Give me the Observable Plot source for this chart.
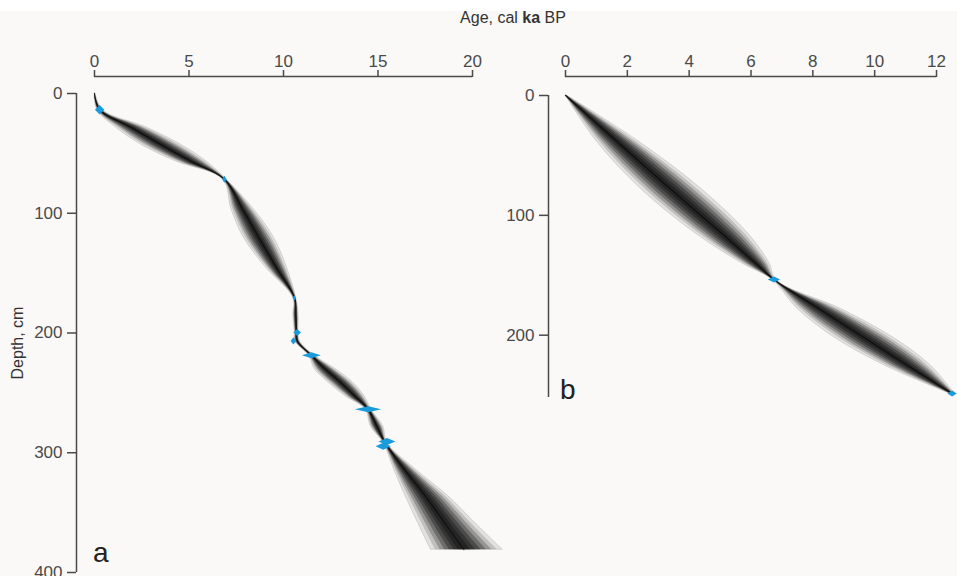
<!DOCTYPE html>
<html><head><meta charset="utf-8">
<script src="https://cdn.jsdelivr.net/npm/d3@7"></script>
<script src="https://cdn.jsdelivr.net/npm/@observablehq/plot@0.6"></script>
<style>
body{margin:0;background:#fff;}
#wrap{position:relative;width:957px;height:576px;background:#fff;overflow:hidden;font-family:"Liberation Sans",Arial,sans-serif;color:#333;}
#bg{position:absolute;left:0;top:11px;width:957px;height:565px;background:#faf9f7;}
.abs{position:absolute;white-space:nowrap;}
.plot{position:absolute;top:0;}
#pa svg text, #pb svg text{font-size:17px !important;}
</style></head><body>
<div id="wrap">
  <div id="bg"></div>
  <div class="abs" id="title" style="left:513px;top:10px;font-size:16px;line-height:16px;transform:translateX(-50%);">Age, cal <b>ka</b> BP</div>
  <div class="abs" id="ylab" style="left:18px;top:343px;font-size:16px;line-height:16px;transform:translate(-50%,-50%) rotate(-90deg);">Depth, cm</div>
  <div id="pa" class="plot" style="left:0px;"></div>
  <div id="pb" class="plot" style="left:480px;"></div>
  <div class="abs" style="left:93px;top:539px;font-size:28px;line-height:28px;color:#222;">a</div>
  <div class="abs" style="left:560px;top:376px;font-size:28px;line-height:28px;color:#222;">b</div>
</div>
<script>
// ---- Panel a: age-depth model (depth cm, age cal ka BP) ----
const depthA = [0, 14, 28, 43, 57, 72, 97, 121, 146, 171, 185, 200, 207, 219, 230, 241, 253, 264, 278, 292, 314, 336, 358, 381];
const medA   = [0, 0.3, 1.9, 3.55, 5.15, 6.9, 7.85, 8.72, 9.65, 10.6, 10.66, 10.7, 10.75, 11.5, 12.2, 13.0, 13.8, 14.5, 14.95, 15.4, 16.4, 17.5, 18.5, 19.55];
const loA    = [0, 0.15, 1.1, 2.5, 4.35, 6.8, 7.25, 7.92, 9.1, 10.52, 10.52, 10.6, 10.62, 11.35, 11.65, 12.35, 13.3, 14.35, 14.62, 15.3, 15.85, 16.45, 17.1, 17.8];
const hiA    = [0.05, 0.45, 2.7, 4.6, 5.95, 7.0, 8.45, 9.52, 10.2, 10.68, 10.8, 10.8, 10.88, 11.65, 12.75, 13.65, 14.3, 14.65, 15.28, 15.5, 17.0, 18.7, 20.1, 21.6];
// dated levels, panel a
const dateDepthA    = [14, 72, 171, 200, 207, 219, 264, 291, 295];
const dateAgeA      = [0.3, 6.9, 10.6, 10.75, 10.55, 11.5, 14.5, 15.5, 15.3];
const dateAgeErrA   = [0.25, 0.12, 0.1, 0.2, 0.15, 0.5, 0.7, 0.45, 0.4];
const dateDepthErrA = [4, 3, 2, 3, 3, 2.5, 2.5, 3, 3];
const xTicksA = [0, 5, 10, 15, 20];
const yTicksA = [0, 100, 200, 300, 400];

// ---- Panel b ----
const depthB = [0, 38, 77, 115, 140, 154, 178, 202, 225, 249];
const medB   = [0, 1.65, 3.35, 5.05, 6.15, 6.76, 8.2, 9.65, 11.05, 12.52];
const loB    = [0, 1.0, 2.4, 4.2, 5.7, 6.7, 7.5, 8.7, 10.3, 12.45];
const hiB    = [0.05, 2.35, 4.35, 5.9, 6.6, 6.82, 8.9, 10.6, 11.8, 12.6];
const dateDepthB    = [154, 249];
const dateAgeB      = [6.76, 12.52];
const dateAgeErrB   = [0.2, 0.15];
const dateDepthErrB = [2.5, 2.5];
const xTicksB = [0, 2, 4, 6, 8, 10, 12];
const yTicksB = [0, 100, 200];

const BLUE = "#1a9bdc";
const AX = "#4a4a4a";
const FONT = "Liberation Sans, Arial, sans-serif";

function rows(depth, med, lo, hi) {
  return depth.map((d, i) => ({depth: d, med: med[i], lo: lo[i], hi: hi[i]}));
}
function diamonds(dep, age, aErr, dErr) {
  const out = [];
  dep.forEach((d, i) => {
    out.push({id: i, depth: d - dErr[i], x1: age[i], x2: age[i]});
    out.push({id: i, depth: d, x1: age[i] - aErr[i], x2: age[i] + aErr[i]});
    out.push({id: i, depth: d + dErr[i], x1: age[i], x2: age[i]});
  });
  return out;
}
// shading layers (fraction of interval, opacity) to mimic the grey-scale density
const layers = [[1, 0.1], [0.86, 0.16], [0.72, 0.24], [0.58, 0.3], [0.44, 0.36], [0.3, 0.4], [0.17, 0.45]];
function bandMarks(data) {
  const m = layers.map(([f, op], k) => Plot.areaX(data, {
    y: "depth",
    x1: d => d.med - f * (d.med - d.lo),
    x2: d => d.med + f * (d.hi - d.med),
    curve: "catmull-rom",
    fill: "#111",
    fillOpacity: op,
    stroke: k === 0 ? "#888" : "none",
    strokeOpacity: 0.45,
    strokeWidth: 0.6
  }));
  m.push(Plot.lineX(data, {x: "med", y: "depth", curve: "catmull-rom", stroke: "#000", strokeOpacity: 0.6, strokeWidth: 1.2}));
  return m;
}

function panel(opts) {
  return Plot.plot({
    width: opts.width, height: 576,
    marginLeft: opts.ml, marginRight: opts.mr, marginTop: 76, marginBottom: opts.mb,
    x: {domain: opts.xdom, insetLeft: opts.il, axis: null},
    y: {domain: opts.ydom, reverse: true, insetTop: opts.it, axis: null},
    style: {background: "transparent", overflow: "visible", fontFamily: FONT, fontSize: "17px"},
    marks: [
      ...bandMarks(opts.band),
      Plot.areaX(opts.dates, {y: "depth", x1: "x1", x2: "x2", z: "id", fill: BLUE}),
      Plot.axisX(opts.xt, {anchor: "top", tickSize: 7, tickPadding: 3, fontSize: 17, color: AX, strokeWidth: 1.5, label: null}),
      Plot.ruleY([0], {x1: opts.xdom[0], x2: opts.xdom[1], dy: -opts.it, stroke: AX, strokeWidth: 1.5}),
      Plot.axisY(opts.yt, {anchor: "left", tickSize: 9, tickPadding: 5, fontSize: 17, color: AX, strokeWidth: 1.5, label: null}),
      Plot.ruleX([0], {y1: opts.ydom[0], y2: opts.ydom[1], dx: -opts.il, stroke: AX, strokeWidth: 1.5})
    ]
  });
}

document.getElementById("pa").append(panel({
  width: 520, ml: 76, mr: 48, mb: 4, xdom: [0, 20], ydom: [0, 400], il: 18, it: 17,
  band: rows(depthA, medA, loA, hiA),
  dates: diamonds(dateDepthA, dateAgeA, dateAgeErrA, dateDepthErrA),
  xt: xTicksA, yt: yTicksA
}));
document.getElementById("pb").append(panel({
  width: 477, ml: 68, mr: 21, mb: 179, xdom: [0, 12], ydom: [0, 252], il: 17, it: 19,
  band: rows(depthB, medB, loB, hiB),
  dates: diamonds(dateDepthB, dateAgeB, dateAgeErrB, dateDepthErrB),
  xt: xTicksB, yt: yTicksB
}));
</script>
</body></html>
